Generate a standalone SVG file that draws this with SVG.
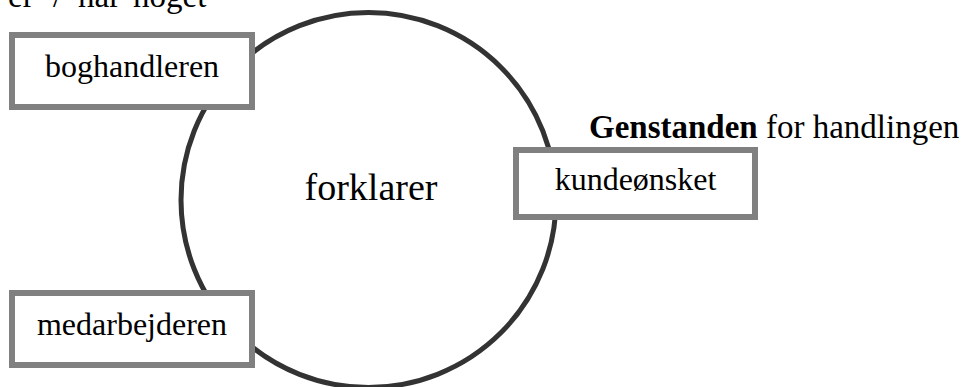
<svg xmlns="http://www.w3.org/2000/svg" width="970" height="387" viewBox="0 0 970 387">
<style>
.t{font-family:"Liberation Serif","Times New Roman",serif;fill:#000}
.box{fill:#fff;stroke:#808080;stroke-width:6}
.ring{fill:none;stroke:#333;stroke-width:5}
</style>
<rect width="970" height="387" fill="#fff"/>
<g id="connectors">
<circle class="ring" cx="368.5" cy="200" r="187.5"/>
</g>
<g id="forklarer">
<text class="t" x="371" y="200" font-size="38" text-anchor="middle">forklarer</text>
</g>
<g id="label-top">
<text class="t" y="7" font-size="33"><tspan x="8">er</tspan><tspan x="53">/</tspan><tspan x="78">har</tspan><tspan x="133">noget</tspan></text>
</g>
<g id="boghandleren">
<rect class="box" x="12" y="35" width="240" height="72"/>
<text class="t" x="132" y="77" font-size="32" text-anchor="middle">boghandleren</text>
</g>
<g id="medarbejderen">
<rect class="box" x="12" y="293" width="240" height="72"/>
<text class="t" x="132" y="335" font-size="32" text-anchor="middle">medarbejderen</text>
</g>
<g id="kundeoensket">
<rect class="box" x="516" y="150" width="239" height="67"/>
<text class="t" x="635.5" y="190" font-size="32" text-anchor="middle">kundeønsket</text>
</g>
<g id="label-genstanden">
<text class="t" x="589" y="138" font-size="33"><tspan font-weight="bold">Genstanden</tspan> for handlingen</text>
</g>
</svg>
